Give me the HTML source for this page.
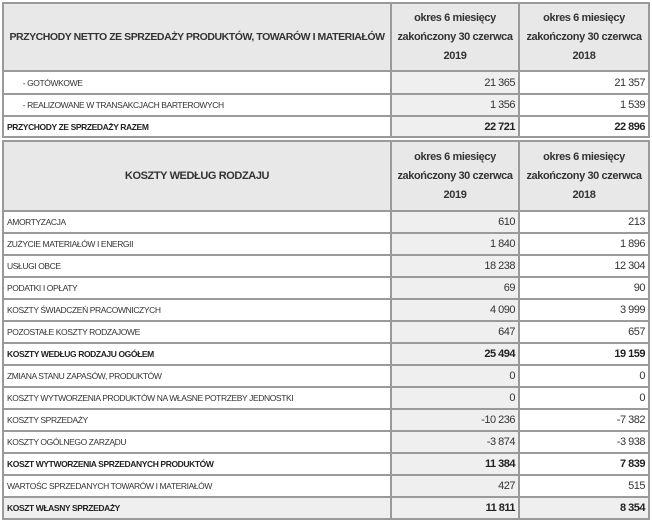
<!DOCTYPE html>
<html><head><meta charset="utf-8"><style>
body{margin:0;width:652px;height:520px;background:#fff;position:relative;overflow:hidden;font-family:"Liberation Sans",sans-serif;color:#333}
.c{position:absolute;box-sizing:border-box;display:flex;align-items:center;white-space:nowrap;overflow:hidden}
.l{padding-left:4px;font-size:8.5px;letter-spacing:-0.4px}
.n{justify-content:flex-end;padding-right:4px;font-size:11px;letter-spacing:-0.5px}
.b{font-weight:bold;color:#222}
.h{background:#e8e8e8;justify-content:center;text-align:center;font-size:11px;line-height:19px;font-weight:bold;color:#333;letter-spacing:-0.4px}
.g{background:#efefef}
.hl{position:absolute;background:#9a9a9a;height:2px}
.vl{position:absolute;background:#9a9a9a;width:2px}
</style></head><body>
<div id="t"></div>
<script>
var H='';
function cell(x,y,w,h,cls,txt){H+='<div class="c '+cls+'" style="left:'+x+'px;top:'+y+'px;width:'+w+'px;height:'+h+'px">'+txt+'</div>';}
var X=[3,391,519,649];
function table(top,hh,head,rows){
 var y=top;
 cell(X[0],y,X[1]-X[0],hh,'h',head[0]);
 cell(X[1],y,X[2]-X[1],hh,'h','okres 6 miesięcy<br>zakończony 30 czerwca<br>2019');
 cell(X[2],y,X[3]-X[2],hh,'h','okres 6 miesięcy<br>zakończony 30 czerwca<br>2018');
 var ys=[y];y+=hh;ys.push(y);
 rows.forEach(function(r){
  var h=r[4]||22;var bg=r[3]==2?' g':'';var bold=r[3]?' b':'';
  cell(X[0],y,X[1]-X[0],h,'l'+bold+bg,r[0]);
  cell(X[1],y,X[2]-X[1],h,'n g'+bold,r[1]);
  cell(X[2],y,X[3]-X[2],h,'n'+bold+bg,r[2]);
  y+=h;ys.push(y);
 });
 ys.forEach(function(v){H+='<div class="hl" style="left:'+(X[0]-1)+'px;top:'+(v-1)+'px;width:'+(X[3]-X[0]+2)+'px"></div>';});
 X.forEach(function(v){H+='<div class="vl" style="left:'+(v-1)+'px;top:'+(top-1)+'px;height:'+(y-top+2)+'px"></div>';});
}
table(3,68,['<span style="font-size:10.5px;letter-spacing:-0.45px">PRZYCHODY NETTO ZE SPRZEDAŻY PRODUKTÓW, TOWARÓW I MATERIAŁÓW</span>'],[
 ['&nbsp;&nbsp;&nbsp;&nbsp;&nbsp;&nbsp;&nbsp;&nbsp;- GOTÓWKOWE','21 365','21 357',0,23],
 ['&nbsp;&nbsp;&nbsp;&nbsp;&nbsp;&nbsp;&nbsp;&nbsp;- REALIZOWANE W TRANSAKCJACH BARTEROWYCH','1 356','1 539',0,22],
 ['PRZYCHODY ZE SPRZEDAŻY RAZEM','22 721','22 896',1,21]
]);
table(141,70,['KOSZTY WEDŁUG RODZAJU'],[
 ['AMORTYZACJA','610','213',0],
 ['ZUŻYCIE MATERIAŁÓW I ENERGII','1 840','1 896',0],
 ['USŁUGI OBCE','18 238','12 304',0],
 ['PODATKI I OPŁATY','69','90',0],
 ['KOSZTY ŚWIADCZEŃ PRACOWNICZYCH','4 090','3 999',0],
 ['POZOSTAŁE KOSZTY RODZAJOWE','647','657',0],
 ['KOSZTY WEDŁUG RODZAJU OGÓŁEM','25 494','19 159',1],
 ['ZMIANA STANU ZAPASÓW, PRODUKTÓW','0','0',0],
 ['KOSZTY WYTWORZENIA PRODUKTÓW NA WŁASNE POTRZEBY JEDNOSTKI','0','0',0],
 ['KOSZTY SPRZEDAŻY','-10 236','-7 382',0],
 ['KOSZTY OGÓLNEGO ZARZĄDU','-3 874','-3 938',0],
 ['KOSZT WYTWORZENIA SPRZEDANYCH PRODUKTÓW','11 384','7 839',1],
 ['WARTOŚC SPRZEDANYCH TOWARÓW I MATERIAŁÓW','427','515',0],
 ['KOSZT WŁASNY SPRZEDAŻY','11 811','8 354',2]
]);
document.getElementById('t').innerHTML=H;
</script>
</body></html>
